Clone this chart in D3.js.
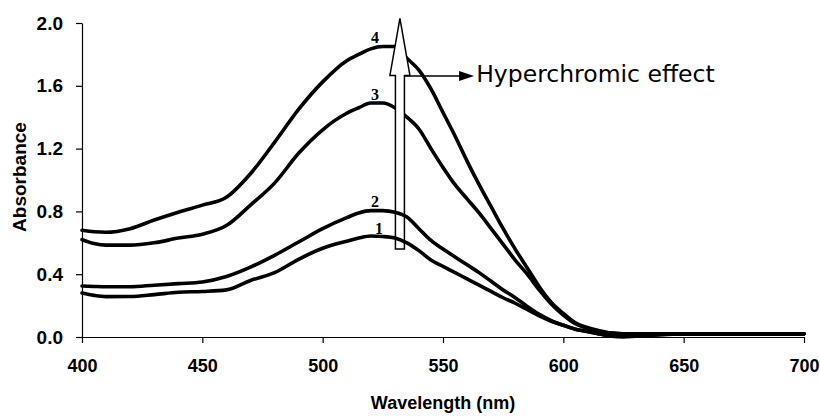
<!DOCTYPE html>
<html><head><meta charset="utf-8">
<script src="https://cdn.jsdelivr.net/npm/d3@7"></script>
<style>
html,body{margin:0;padding:0;background:#fff;}
svg{display:block;}
</style></head>
<body>
<svg id="chart" width="820" height="418"></svg>
<script>
// ---- data ----
const wavelengths = [400,405,410,420,430,440,450,460,470,480,490,500,510,515,520,525,530,535,540,545,550,555,560,565,570,575,580,585,590,595,600,605,610,615,620,625,630,640,650,660,670,680,690,700];
const curve1 = [0.28,0.265,0.257,0.258,0.27,0.285,0.29,0.30,0.36,0.41,0.495,0.565,0.61,0.63,0.643,0.64,0.63,0.60,0.55,0.49,0.45,0.41,0.37,0.33,0.29,0.25,0.215,0.175,0.135,0.10,0.075,0.05,0.035,0.02,0.005,0.0,0.005,0.015,0.02,0.02,0.02,0.02,0.02,0.02];
const curve2 = [0.325,0.322,0.32,0.32,0.33,0.34,0.35,0.385,0.445,0.52,0.605,0.69,0.76,0.79,0.805,0.805,0.795,0.765,0.69,0.615,0.56,0.51,0.46,0.41,0.355,0.30,0.25,0.195,0.145,0.105,0.075,0.05,0.035,0.02,0.005,0.005,0.01,0.015,0.02,0.02,0.02,0.02,0.02,0.02];
const curve3 = [0.62,0.595,0.585,0.585,0.60,0.63,0.655,0.71,0.84,0.98,1.17,1.32,1.425,1.46,1.49,1.49,1.46,1.40,1.325,1.20,1.08,0.97,0.88,0.79,0.69,0.59,0.49,0.40,0.30,0.21,0.14,0.085,0.055,0.035,0.025,0.02,0.02,0.02,0.02,0.02,0.02,0.02,0.02,0.02];
const curve4 = [0.68,0.67,0.667,0.69,0.745,0.795,0.84,0.89,1.04,1.24,1.45,1.625,1.76,1.80,1.835,1.85,1.85,1.775,1.70,1.58,1.43,1.28,1.12,0.97,0.83,0.69,0.56,0.44,0.32,0.22,0.15,0.09,0.06,0.04,0.025,0.02,0.02,0.02,0.02,0.02,0.02,0.02,0.02,0.02];
const seriesNames = ["1","2","3","4"];
const labelPos = [[523.4,0.655],[521.7,0.83],[521.7,1.51],[521.7,1.87]]; // [wavelength, absorbance] of curve labels
const xTicks = [400,450,500,550,600,650,700];
const yTicks = [0.0,0.4,0.8,1.2,1.6,2.0];
const xTitle = "Wavelength (nm)";
const yTitle = "Absorbance";
const annotation = "Hyperchromic effect";
// arrow: [wavelength center, bottom abs, head-base abs, tip abs]
const arrowSpec = [532.1, 0.56, 1.666, 2.03];
const pointerSpec = [562.9, 1.663]; // horizontal pointer end
const annotationPos = [563.8, 1.625];

// ---- chart ----
const svg = d3.select("#chart");
const x = d3.scaleLinear().domain([400,700]).range([82,804]);
const y = d3.scaleLinear().domain([0,2]).range([337,23]);

const axisFont = "'Liberation Sans', Arial, sans-serif";

// axes
const xAxis = svg.append("g").attr("transform",`translate(0,${y(0)})`)
  .call(d3.axisBottom(x).tickValues(xTicks).tickSize(6).tickSizeOuter(0).tickPadding(16).tickFormat(d3.format("d")));
const yAxis = svg.append("g").attr("transform",`translate(${x(400)},0)`)
  .call(d3.axisLeft(y).tickValues(yTicks).tickSize(6).tickSizeOuter(0).tickPadding(13).tickFormat(d3.format(".1f")));
[xAxis,yAxis].forEach(g=>{
  g.select(".domain").attr("stroke","#000").attr("stroke-width",1.2);
  g.selectAll(".tick line").attr("stroke","#000").attr("stroke-width",1.2);
  g.selectAll(".tick text").attr("fill","#000").style("font-family",axisFont)
   .style("font-weight","bold");
});
xAxis.selectAll(".tick text").style("font-size","18px");
yAxis.selectAll(".tick text").style("font-size","19px");

svg.append("text").attr("x",(x(400)+x(700))/2).attr("y",409).attr("text-anchor","middle")
  .style("font-family",axisFont).style("font-weight","bold").style("font-size","18px").text(xTitle);
svg.append("text").attr("transform",`translate(26,177) rotate(-90)`).attr("text-anchor","middle")
  .style("font-family",axisFont).style("font-weight","bold").style("font-size","19px").text(yTitle);

const line = d3.line().x(d=>x(d[0])).y(d=>y(d[1])).curve(d3.curveMonotoneX);
const allSeries = [curve1,curve2,curve3,curve4].map(vals=>wavelengths.map((w,i)=>[w,vals[i]]));

function drawCurve(data){
  svg.append("path").datum(data).attr("d",line).attr("fill","none")
    .attr("stroke","#000").attr("stroke-width",3.6).attr("stroke-linejoin","round").attr("stroke-linecap","round");
}
drawCurve(allSeries[2]);
drawCurve(allSeries[3]);

// hollow arrow
const ac = x(arrowSpec[0]);
const sw = 4.5, hw = 10;
const arrowPath = d3.path();
arrowPath.moveTo(ac-sw, y(arrowSpec[1]));
arrowPath.lineTo(ac-sw, y(arrowSpec[2]));
arrowPath.lineTo(ac-hw, y(arrowSpec[2]));
arrowPath.lineTo(ac, y(arrowSpec[3]));
arrowPath.lineTo(ac+hw, y(arrowSpec[2]));
arrowPath.lineTo(ac+sw, y(arrowSpec[2]));
arrowPath.lineTo(ac+sw, y(arrowSpec[1]));
arrowPath.closePath();
svg.append("path").attr("d",arrowPath.toString()).attr("fill","#fff").attr("stroke","#000").attr("stroke-width",1.5).attr("stroke-linejoin","miter");

drawCurve(allSeries[0]);
drawCurve(allSeries[1]);

// pointer arrow
const py = y(pointerSpec[1]);
const px = x(pointerSpec[0]);
svg.append("line").attr("x1",ac+sw).attr("y1",py).attr("x2",px-12).attr("y2",py).attr("stroke","#000").attr("stroke-width",1.5);
const tri = d3.path();
tri.moveTo(px,py); tri.lineTo(px-15,py-5); tri.lineTo(px-15,py+5); tri.closePath();
svg.append("path").attr("d",tri.toString()).attr("fill","#000");
svg.append("text").attr("x",x(annotationPos[0])).attr("y",y(annotationPos[1]))
  .style("font-family","'DejaVu Sans', Verdana, sans-serif").style("font-size","23.5px").attr("fill","#000").text(annotation);

// curve labels
svg.selectAll(".clabel").data(seriesNames).enter().append("text")
  .attr("x",(d,i)=>x(labelPos[i][0])).attr("y",(d,i)=>y(labelPos[i][1]))
  .attr("text-anchor","middle")
  .style("font-family","'Liberation Serif','Times New Roman',serif").style("font-weight","bold").style("font-size","16px")
  .text(d=>d);
</script>
</body></html>
